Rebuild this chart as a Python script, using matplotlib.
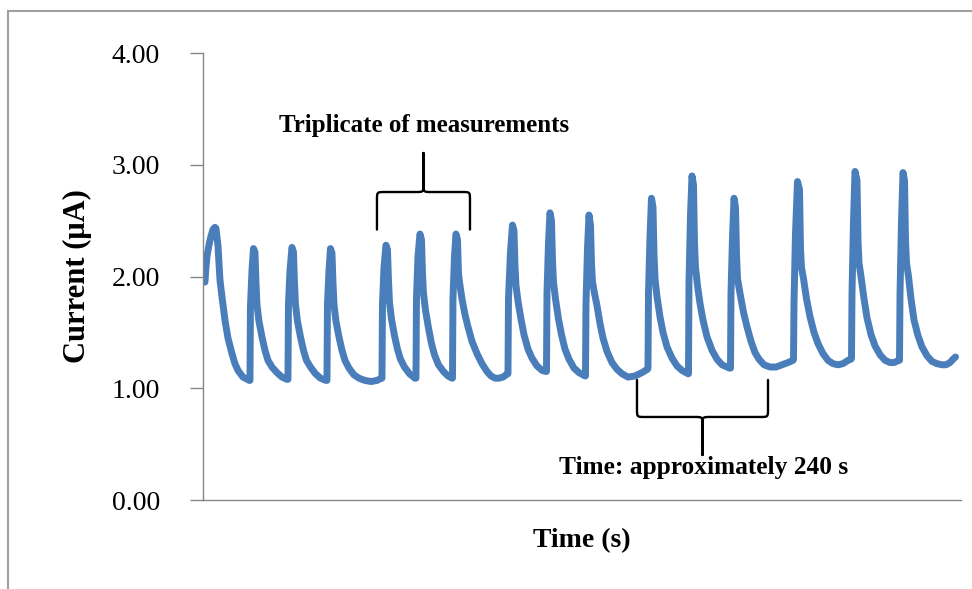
# amperometric response, repeated injections
import matplotlib.pyplot as plt
from matplotlib.path import Path
from matplotlib.patches import PathPatch, Rectangle

# time (s) and current (uA), one row per peak
time_s = [
    4, 6, 8, 12, 16, 20, 24, 26, 30, 34, 38, 44, 50, 58, 64, 70, 80, 93,
    94, 95, 98, 101, 104, 106, 108, 112, 118, 124, 130, 138, 148, 158, 168,
    170, 171, 174, 178, 181, 183, 185, 189, 195, 201, 207, 215, 225, 235, 246,
    248, 249, 252, 255, 258, 260, 262, 266, 272, 278, 284, 292, 302, 312, 324, 336, 348, 357,
    358, 359, 362, 366, 369, 371, 373, 377, 383, 389, 395, 403, 413, 424,
    426, 427, 430, 434, 437, 439, 441, 445, 451, 457, 463, 471, 481, 490, 498,
    499, 500, 503, 506, 509, 511, 513, 518, 524, 530, 538, 548, 558, 568, 576, 584, 592, 600, 609,
    610, 611, 615, 619, 622, 624, 626, 630, 636, 642, 650, 658, 668, 678, 686,
    687, 688, 691, 694, 697, 699, 701, 705, 711, 717, 724, 732, 742, 752, 764,
    765, 766, 769, 772, 775, 777, 779, 783, 788, 794, 800, 808, 818, 828, 838, 850, 864, 878, 889,
    890, 891, 894, 897, 900, 902, 904, 908, 914, 920, 928, 938, 948, 958, 970,
    971, 972, 975, 978, 981, 983, 985, 989, 994, 1000, 1008, 1018, 1028, 1038, 1053,
    1055, 1056, 1059, 1062, 1065, 1067, 1069, 1074, 1081, 1088, 1096, 1104, 1112, 1122, 1134, 1146, 1158, 1170, 1180,
    1181, 1182, 1185, 1189, 1193, 1195, 1197, 1201, 1207, 1214, 1222, 1230, 1240, 1250, 1260, 1270, 1280, 1290, 1296,
    1297, 1298, 1301, 1304, 1308, 1310, 1312, 1316, 1322, 1328, 1336, 1344, 1354, 1364, 1374, 1382, 1392,
    1393, 1394, 1397, 1400, 1403, 1405, 1407, 1411, 1416, 1422, 1430, 1438, 1448, 1458, 1468, 1478, 1486, 1494, 1500, 1505,
]
current_uA = [
    1.95, 2.08, 2.18, 2.28, 2.36, 2.42, 2.44, 2.43, 2.28, 1.97, 1.82, 1.61, 1.45, 1.31, 1.22, 1.16, 1.10, 1.07,
    1.07, 1.73, 2.05, 2.25, 2.22, 1.95, 1.75, 1.60, 1.46, 1.34, 1.25, 1.19, 1.14, 1.10, 1.08,
    1.08, 1.75, 2.05, 2.26, 2.22, 1.95, 1.75, 1.60, 1.46, 1.34, 1.25, 1.19, 1.13, 1.09, 1.07,
    1.07, 1.75, 2.05, 2.25, 2.21, 1.95, 1.75, 1.60, 1.46, 1.34, 1.25, 1.18, 1.12, 1.09, 1.07, 1.06, 1.07, 1.09,
    1.09, 1.75, 2.08, 2.28, 2.24, 1.97, 1.77, 1.62, 1.47, 1.35, 1.26, 1.19, 1.13, 1.09,
    1.09, 1.80, 2.18, 2.38, 2.33, 2.03, 1.85, 1.70, 1.54, 1.40, 1.30, 1.21, 1.15, 1.11, 1.09,
    1.09, 1.80, 2.18, 2.38, 2.33, 2.03, 1.95, 1.80, 1.66, 1.55, 1.42, 1.31, 1.22, 1.15, 1.11, 1.09, 1.09, 1.10, 1.13,
    1.13, 1.80, 2.22, 2.46, 2.41, 2.10, 1.92, 1.78, 1.62, 1.48, 1.35, 1.27, 1.20, 1.16, 1.15,
    1.15, 1.85, 2.30, 2.57, 2.50, 2.15, 1.95, 1.80, 1.62, 1.48, 1.35, 1.26, 1.18, 1.14, 1.11,
    1.11, 1.75, 2.25, 2.55, 2.46, 2.12, 1.95, 1.85, 1.74, 1.58, 1.45, 1.33, 1.23, 1.17, 1.13, 1.10, 1.11, 1.14, 1.17,
    1.18, 1.85, 2.35, 2.70, 2.62, 2.20, 1.98, 1.82, 1.64, 1.50, 1.37, 1.27, 1.20, 1.16, 1.13,
    1.13, 1.95, 2.55, 2.90, 2.82, 2.30, 2.08, 1.92, 1.76, 1.61, 1.46, 1.34, 1.26, 1.21, 1.18,
    1.18, 1.85, 2.35, 2.70, 2.62, 2.20, 1.98, 1.85, 1.68, 1.55, 1.42, 1.32, 1.26, 1.21, 1.19, 1.19, 1.21, 1.23, 1.25,
    1.26, 1.76, 2.39, 2.85, 2.78, 2.25, 2.08, 1.98, 1.80, 1.64, 1.50, 1.40, 1.31, 1.25, 1.22, 1.21, 1.22, 1.25, 1.26,
    1.27, 1.85, 2.50, 2.94, 2.86, 2.32, 2.12, 2.00, 1.80, 1.63, 1.48, 1.38, 1.30, 1.25, 1.23, 1.23, 1.25,
    1.25, 1.85, 2.50, 2.93, 2.86, 2.32, 2.12, 2.00, 1.80, 1.61, 1.47, 1.37, 1.29, 1.24, 1.22, 1.21, 1.21, 1.23, 1.26, 1.28,
]
y_ticks = [0.0, 1.0, 2.0, 3.0, 4.0]

plt.rcParams['font.family'] = ['Liberation Serif', 'DejaVu Serif']

AXIS_GREY = '#868686'
LINE_BLUE = '#4A7EBB'


def brace(ax, x0, x1, y_ends, y_bar, y_tip, dx=15, dy=0.075):
    # curly bracket: ends at y_ends, bar at y_bar, pointed tip at y_tip
    s = 1 if y_tip > y_bar else -1
    xm = 0.5 * (x0 + x1)
    verts = [
        (x0, y_ends), (x0, y_bar - s * dy),
        (x0, y_bar), (x0, y_bar), (x0 + dx, y_bar),
        (xm - dx, y_bar),
        (xm, y_bar), (xm, y_bar), (xm, y_bar + s * dy),
        (xm, y_tip),
        (xm, y_bar + s * dy),
        (xm, y_bar), (xm, y_bar), (xm + dx, y_bar),
        (x1 - dx, y_bar),
        (x1, y_bar), (x1, y_bar), (x1, y_bar - s * dy),
        (x1, y_ends),
    ]
    codes = [Path.MOVETO, Path.LINETO,
             Path.CURVE4, Path.CURVE4, Path.CURVE4,
             Path.LINETO,
             Path.CURVE4, Path.CURVE4, Path.CURVE4,
             Path.LINETO, Path.LINETO,
             Path.CURVE4, Path.CURVE4, Path.CURVE4,
             Path.LINETO,
             Path.CURVE4, Path.CURVE4, Path.CURVE4,
             Path.LINETO]
    ax.add_patch(PathPatch(Path(verts, codes), fill=False, edgecolor='black',
                           lw=1.7, clip_on=False, capstyle='round', joinstyle='round'))


fig = plt.figure(figsize=(9.72, 5.89), dpi=100)
ax = fig.add_axes([0.2088, 0.1511, 0.7799, 0.7589])

ax.plot(time_s, current_uA, color=LINE_BLUE, lw=5.0, solid_joinstyle='round',
        solid_capstyle='round')

ax.set_xlim(0, 1516)
ax.set_ylim(0, 4)
ax.set_yticks(y_ticks)
ax.set_yticklabels(['%.2f' % v for v in y_ticks])
ax.set_xticks([])

for side in ('top', 'right'):
    ax.spines[side].set_visible(False)
for side in ('left', 'bottom'):
    ax.spines[side].set_color(AXIS_GREY)
    ax.spines[side].set_linewidth(1.0)
ax.tick_params(axis='y', direction='out', length=9.5, width=1.0, color=AXIS_GREY,
               labelsize=20, pad=21.5)

ax.set_ylabel('Current (μA)', fontsize=22, fontweight='bold', labelpad=14)
ax.set_xlabel('Time (s)', fontsize=20, fontweight='bold', labelpad=20)

# triplicate bracket and its label
brace(ax, 348, 534, 2.42, 2.756, 3.105)
ax.text(443, 3.35, 'Triplicate of measurements', ha='center', va='center',
        fontsize=18, fontweight='bold')

# time span bracket below the trace
brace(ax, 868, 1130, 1.074, 0.743, 0.403)
ax.text(1002, 0.29, 'Time: approximately 240 s', ha='center', va='center',
        fontsize=18.3, fontweight='bold')

# outer frame of the chart area
fig.add_artist(Rectangle((8 / 972, -0.05), 1.2, 1.05 - 11 / 589,
                         transform=fig.transFigure, fill=False,
                         edgecolor='#A0A0A0', lw=1.5))

fig.savefig('out.png', dpi=100)
